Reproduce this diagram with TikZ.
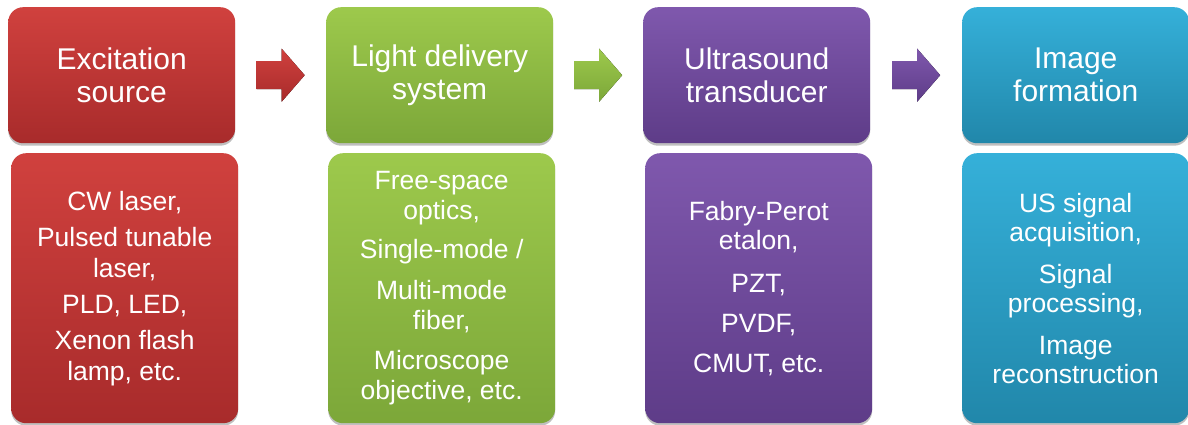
\documentclass[tikz,border=0pt]{standalone}
\usepackage{fontspec}
\setmainfont{Liberation Sans}
\usetikzlibrary{calc,shadows}
\definecolor{redtop}{HTML}{D0413E}
\definecolor{redbot}{HTML}{A82B2B}
\definecolor{greentop}{HTML}{9DC94C}
\definecolor{greenbot}{HTML}{7CA739}
\definecolor{purpletop}{HTML}{7F58AD}
\definecolor{purplebot}{HTML}{5E3C88}
\definecolor{bluetop}{HTML}{35B0D9}
\definecolor{bluebot}{HTML}{2187AA}
\begin{document}
\begin{tikzpicture}[x=1pt,y=-1pt,
  box/.style={anchor=north west, rounded corners=15pt, inner sep=0pt,
    text=white, align=center,
    drop shadow={shadow xshift=0pt, shadow yshift=-2.5pt, opacity=0.25, fill=black}},
  titlebox/.style={box, minimum width=227pt, minimum height=136pt,
    font=\fontsize{30}{33}\selectfont},
  bodybox/.style={box, minimum width=227pt, minimum height=270pt,
    font=\fontsize{26.5}{29}\selectfont},
  redfill/.style={top color=redtop, bottom color=redbot},
  greenfill/.style={top color=greentop, bottom color=greenbot},
  purplefill/.style={top color=purpletop, bottom color=purplebot},
  bluefill/.style={top color=bluetop, bottom color=bluebot}]
\useasboundingbox (0,0) rectangle (1188,425);
% title boxes
\node[titlebox, redfill]    (t1) at (8,7)   {Excitation\\source};
\node[titlebox, greenfill]  (t2) at (326,7) {Light delivery\\system};
\node[titlebox, purplefill] (t3) at (643,7) {Ultrasound\\transducer};
\node[titlebox, bluefill]   (t4) at (962,7) {Image\\formation};
% detail boxes
\node[bodybox, redfill, font=\fontsize{26.5}{31}\selectfont] (b1) at (11,153)
  {CW laser,\\[5pt]Pulsed tunable\\laser,\\[5pt]PLD, LED,\\[5pt]Xenon flash\\lamp, etc.};
\node[bodybox, greenfill, font=\fontsize{26.5}{30}\selectfont] (b2) at (328,153)
  {Free-space\\optics,\\[9pt]Single-mode /\\[11pt]Multi-mode\\fiber,\\[10pt]Microscope\\objective, etc.};
\node[bodybox, purplefill] (b3) at (645,153)
  {Fabry-Perot\\etalon,\\[14pt]PZT,\\[11pt]PVDF,\\[11pt]CMUT, etc.};
\node[bodybox, bluefill] (b4) at (962,153)
  {US signal\\acquisition,\\[13pt]Signal\\processing,\\[13pt]Image\\reconstruction};
% block arrows
\foreach \a/\b/\c in {t1/t2/red, t2/t3/green, t3/t4/purple}{
  \coordinate (m) at ($(\a.east)!0.5!(\b.west)$);
  \fill[top color=\c top, bottom color=\c bot]
    ($(m)+(-24,-14)$) -- ($(m)+(1,-14)$) -- ($(m)+(1,-26.5)$) -- ($(m)+(24,0)$)
    -- ($(m)+(1,26.5)$) -- ($(m)+(1,14)$) -- ($(m)+(-24,14)$) -- cycle;
}
\end{tikzpicture}
\end{document}
